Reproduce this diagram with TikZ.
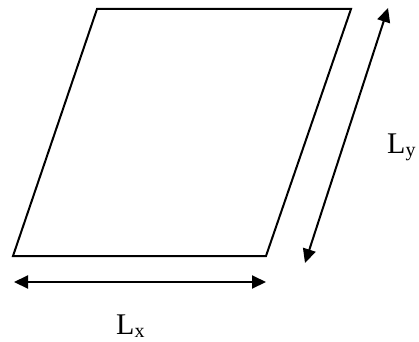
\documentclass[tikz,border=0pt]{standalone}
\usepackage{fontspec}
\setmainfont{Liberation Serif}
\usetikzlibrary{arrows.meta}
\tikzset{
  edge/.style={line width=2pt, line join=miter},
  dim/.style={line width=2pt, {Triangle[length=14pt,width=13pt]}-{Triangle[length=14pt,width=13pt]}, shorten <=0pt, shorten >=0pt},
  lab/.style={inner sep=0pt, anchor=base west, font=\fontsize{30}{30}\selectfont}
}
\newcommand{\subtxt}[1]{\raisebox{-3pt}{\fontsize{20}{20}\selectfont #1}}
\begin{document}
\begin{tikzpicture}[x=1pt,y=1pt]
\useasboundingbox (0,0) rectangle (419,341);
\coordinate (A) at (13,85);
\coordinate (B) at (266,85);
\coordinate (C) at (351,332);
\coordinate (D) at (97,332);
\draw[edge] (A) -- (B) -- (C) -- (D) -- cycle;
\coordinate (xl) at (14,59);
\coordinate (xr) at (266,59);
\draw[dim] (xl) -- (xr);
\coordinate (yt) at (388,333);
\coordinate (yb) at (305,78);
\draw[dim] (yb) -- (yt);
\node[lab] (lx) at (116,7) {L\subtxt{x}};
\node[lab] (ly) at (387,188) {L\subtxt{y}};
\end{tikzpicture}
\end{document}
